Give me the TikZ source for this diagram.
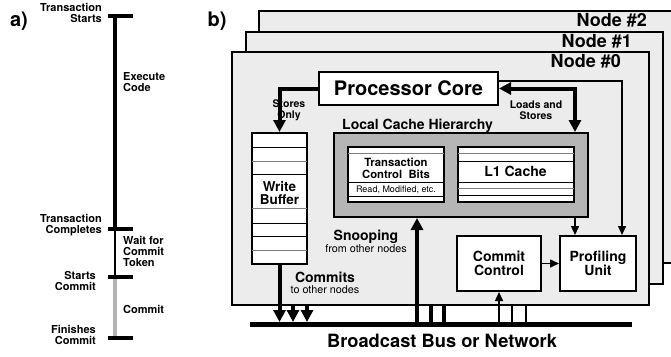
\documentclass[tikz,border=0pt]{standalone}
\usepackage{fontspec}
\setmainfont{TeX Gyre Heros}
\usetikzlibrary{arrows.meta, positioning, calc}
\definecolor{nodegray}{HTML}{ECECEC}
\definecolor{cachegray}{HTML}{B5B5B5}
\definecolor{commitgray}{HTML}{B3B3B3}
\newcommand{\fsz}[1]{\fontsize{#1}{#1}\selectfont}

\begin{document}
\begin{tikzpicture}[x=1pt, y=-1pt,
    blk/.style={draw=black, line width=2pt, fill=white, font=\fsz{14}\bfseries,
                align=center, inner sep=0pt},
    nodebox/.style={draw=black, line width=1.5pt, fill=nodegray},
    fat/.style={line width=4pt, -{Triangle[width=12pt,length=12pt]}},
    fatboth/.style={line width=4pt, {Triangle[width=12pt,length=12pt]}-{Triangle[width=12pt,length=12pt]}},
    sig/.style={line width=1.5pt, -{Triangle[width=8pt,length=9pt]}},
    tag/.style={font=\fsz{11}\bfseries, inner sep=0pt},
    note/.style={font=\fsz{10.8}, inner sep=0pt},
    row/.style={line width=1pt, shorten <=1pt, shorten >=1pt}]
    \useasboundingbox (0,0) rectangle (671,356);
    \clip (0,0) rectangle (671,356);

    % a) timeline of one transaction
    \node[font=\fsz{20}\bfseries, inner sep=0pt] (pa) at (19,21) {a)};
    \coordinate (ts) at (115,16);
    \coordinate (tc) at (115,229);
    \coordinate (sc) at (115,277);
    \coordinate (fc) at (115,338);
    \draw[line width=4pt] (ts) -- (tc);
    \draw[line width=1.5pt] (tc) -- (sc);
    \draw[line width=4pt, commitgray] (sc) -- (fc);
    \foreach \p in {ts,tc,sc,fc}
      \draw[line width=4pt] ([xshift=-7pt]\p) -- ([xshift=18pt]\p);
    \node[tag, anchor=east, align=right] (lts) at (102,13) {Transaction\\Starts};
    \node[tag, anchor=east, align=right] (ltc) at (102,225.5) {Transaction\\Completes};
    \node[tag, anchor=east, align=right] (lsc) at (96,281) {Starts\\Commit};
    \node[tag, anchor=east, align=right] (lfc) at (96,335) {Finishes\\Commit};
    \node[tag, anchor=west, align=left] (lex) at (123,82) {Execute\\Code};
    \node[tag, anchor=west, align=left] (lwt) at (123,251) {Wait for\\Commit\\Token};
    \node[tag, anchor=west, align=left] (lcm) at (123,309) {Commit};

    % b) the nodes, back to front
    \node[font=\fsz{20}\bfseries, inner sep=0pt] (pb) at (217,21) {b)};
    \draw[nodebox] (259,11) rectangle (680,263);
    \node[font=\fsz{18}\bfseries, anchor=base east, inner sep=0pt] (n2) at (647,26) {Node \#2};
    \draw[nodebox] (246,32) rectangle (663,284);
    \node[font=\fsz{18}\bfseries, anchor=base east, inner sep=0pt] (n1) at (632,47) {Node \#1};
    \draw[nodebox] (232,52) rectangle (649,305);
    \node[font=\fsz{18}\bfseries, anchor=base east, inner sep=0pt] (n0) at (621,67) {Node \#0};

    \node[blk, font=\fsz{20}\bfseries, minimum width=179pt, minimum height=33pt] (core) at (408.5,88.5) {Processor Core};

    % write buffer
    \node[blk, minimum width=55pt, minimum height=131pt] (wb) at (279.5,198.5) {};
    \foreach \yy/\cc in {147/black,161/black!50,174/black,208/black!50,223/black,236/black,250/black!50}
      \draw[row, \cc] (wb.west |- 0,\yy) -- (wb.east |- 0,\yy);
    \node[font=\fsz{13.5}\bfseries, align=center, inner sep=0pt] (wbtext) at (279.5,193) {Write\\Buffer};

    % local cache hierarchy
    \node[draw=black, line width=2pt, fill=cachegray, minimum width=254pt, minimum height=84pt, inner sep=0pt] (cache) at (461,175) {};
    \node[font=\fsz{14}\bfseries, anchor=base west, inner sep=0pt] (cachetitle) at (342,129) {Local Cache Hierarchy};
    \node[blk, minimum width=96pt, minimum height=55pt] (tcb) at (396,174.5) {};
    \foreach \yy/\cc in {153/black!50,182/black,196/black}
      \draw[row, \cc] (tcb.west |- 0,\yy) -- (tcb.east |- 0,\yy);
    \node[font=\fsz{11.3}\bfseries, align=center, inner sep=0pt] (tcbtext) at (396,168.5) {Transaction\\Control~~Bits};
    \node[font=\fsz{9}, inner sep=0pt] (tcbnote) at (396,189.5) {Read, Modified, etc.};
    \node[blk, minimum width=116pt, minimum height=55pt] (l1) at (515.5,174.5) {};
    \foreach \yy/\cc in {153/black!50,161/black,182/black,188/black!50,195/black}
      \draw[row, \cc] (l1.west |- 0,\yy) -- (l1.east |- 0,\yy);
    \node[font=\fsz{14}\bfseries, inner sep=0pt] (l1text) at (515.5,171.5) {L1 Cache};

    \node[blk, minimum width=84pt, minimum height=55pt] (cc) at (499,263.5) {Commit\\Control};
    \node[blk, minimum width=76pt, minimum height=55pt] (prof) at (598,263.5) {Profiling\\Unit};

    % connectors inside node #0
    \coordinate (lsx) at (575,0);
    \draw[fat] (core.west) -| (wb.north);
    \node[font=\fontsize{10.5}{11}\selectfont\bfseries, align=center, inner sep=0pt] (so) at (289,110) {Stores\\Only};
    \draw[fatboth] (core.east) -| (lsx |- cache.north);
    \node[font=\fontsize{10.5}{11}\selectfont\bfseries, align=center, inner sep=0pt] (ls) at (536,110) {Loads and\\Stores};
    \draw[sig] ([yshift=7.5pt]core.east) -| ([xshift=24pt]prof.north);
    \draw[sig] (lsx |- cache.south) -- (lsx |- prof.north);
    \draw[sig] (cc) -- (prof);

    % bus and taps
    \coordinate (busL) at (250,324.5);
    \coordinate (busR) at (632,324.5);
    \coordinate (bustop) at (0,322);
    \coordinate (n0b) at (0,305);
    \coordinate (wb2) at (293,0);
    \coordinate (wb3) at (307,0);
    \coordinate (snoop) at (417,0);
    \coordinate (sn2) at (431,0);
    \coordinate (sn3) at (444,0);
    \coordinate (cm2) at (512,0);
    \coordinate (cm3) at (526,0);
    \draw[line width=5pt] (busL) -- (busR);
    \draw[fat] (wb.south) -- (wb.south |- bustop);
    \foreach \c in {wb2,wb3}
      \draw[fat] (\c |- n0b) -- (\c |- bustop);
    \draw[fat] (snoop |- busL) -- (snoop |- cache.south);
    \foreach \c in {sn2,sn3}
      \draw[line width=4pt] (\c |- n0b) -- (\c |- busL);
    \draw[sig] (cc.south |- busL) -- (cc.south);
    \foreach \c in {cm2,cm3}
      \draw[line width=1.5pt] (\c |- n0b) -- (\c |- busL);

    \node[font=\fsz{14}\bfseries, inner sep=0pt] (snp) at (366,237) {Snooping};
    \node[note] (snpnote) at (366,249) {from other nodes};
    \node[font=\fsz{14}\bfseries, inner sep=0pt] (cmt) at (325,277) {Commits};
    \node[note] (cmtnote) at (325,290) {to other nodes};
    \node[font=\fsz{18.3}\bfseries, anchor=base, inner sep=0pt] (bustext) at (442,347) {Broadcast Bus or Network};
\end{tikzpicture}
\end{document}
